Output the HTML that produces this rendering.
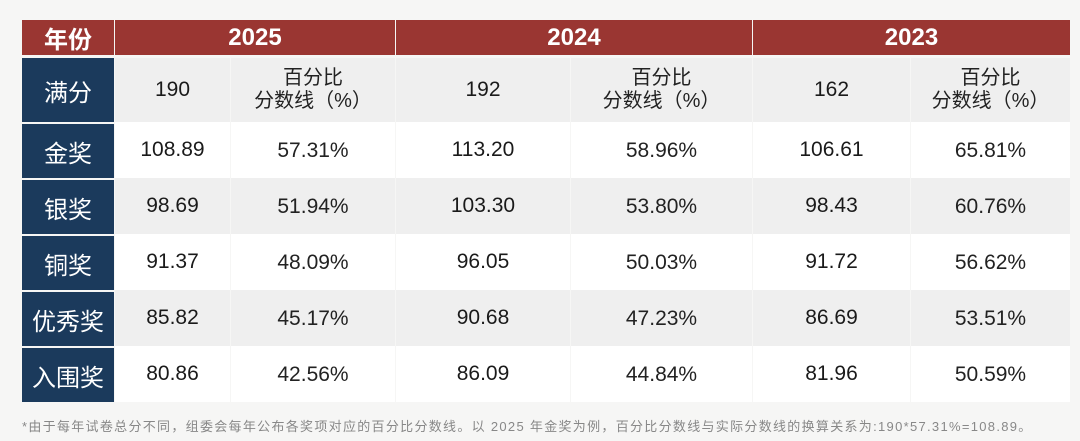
<!DOCTYPE html>
<html><head><meta charset="utf-8"><style>
body{margin:0;width:1080px;height:441px;background:#f6f6f5;overflow:hidden;font-family:"Liberation Sans","Noto Sans CJK SC",sans-serif;position:relative}
.c{position:absolute;display:flex;align-items:center;justify-content:center;text-align:center;box-sizing:border-box}
.h{background:#9a3632;color:#fff;font-weight:bold;font-size:24px}
.l{background:#1b3a5c;color:#fff;font-size:24px}
.v{font-size:21px;color:#1a1a1a}
.p{font-size:20px;line-height:23px;color:#222}
#note{position:absolute;left:22px;top:416px;font-size:13px;letter-spacing:1.3px;color:#888;white-space:nowrap}
</style></head><body>
<div id="t"></div>
<div id="note">*由于每年试卷总分不同，组委会每年公布各奖项对应的百分比分数线。以 2025 年金奖为例，百分比分数线与实际分数线的换算关系为:190*57.31%=108.89。</div>
<script>
const years=['2025','2024','2023'];
const labels=['满分','金奖','银奖','铜奖','优秀奖','入围奖'];
const full=['190','192','162'];
const scores=[['108.89','113.20','106.61'],['98.69','103.30','98.43'],['91.37','96.05','91.72'],['85.82','90.68','86.69'],['80.86','86.09','81.96']];
const pcts=[['57.31%','58.96%','65.81%'],['51.94%','53.80%','60.76%'],['48.09%','50.03%','56.62%'],['45.17%','47.23%','53.51%'],['42.56%','44.84%','50.59%']];
const xs=[22,114,230,395,570,752,910,1070];
const ys=[58,122,178,234,290,346,402];
const t=document.getElementById('t');
function cell(x,y,w,h,cls,html,bg,name){const d=document.createElement('div');d.className='c '+cls;d.style.cssText=`left:${x}px;top:${y}px;width:${w}px;height:${h}px;`+(bg?`background:${bg};`:'');d.innerHTML=html;


t.appendChild(d);}
cell(22,20,92,35,'h','年份',null,'header-year-label');
years.forEach((y,i)=>{const x0=xs[1+2*i],x1=xs[3+2*i];cell(x0+1,20,x1-x0-1,35,'h',y,null,'header-'+y);});
labels.forEach((lb,r)=>{
 const y=ys[r],h=ys[r+1]-y;const bg=(r%2==0)?'#efefef':'#ffffff';
 cell(22,y+(r?2:0),92,h-(r?2:0),'l',lb,null,'row-label-'+r);
 for(let i=0;i<3;i++){
  const a=xs[1+2*i],b=xs[2+2*i],c=xs[3+2*i];
  cell(a+1,y,b-a-1,h,'v',r==0?full[i]:scores[r-1][i],bg,'score-'+years[i]+'-'+r);
  cell(b+1,y,c-b-1,h,'p',r==0?'百分比<br>分数线（%）':pcts[r-1][i],bg,'pct-'+years[i]+'-'+r);
  if(r>0)t.lastChild.style.fontSize='21px';
 }
});
</script>
</body></html>
